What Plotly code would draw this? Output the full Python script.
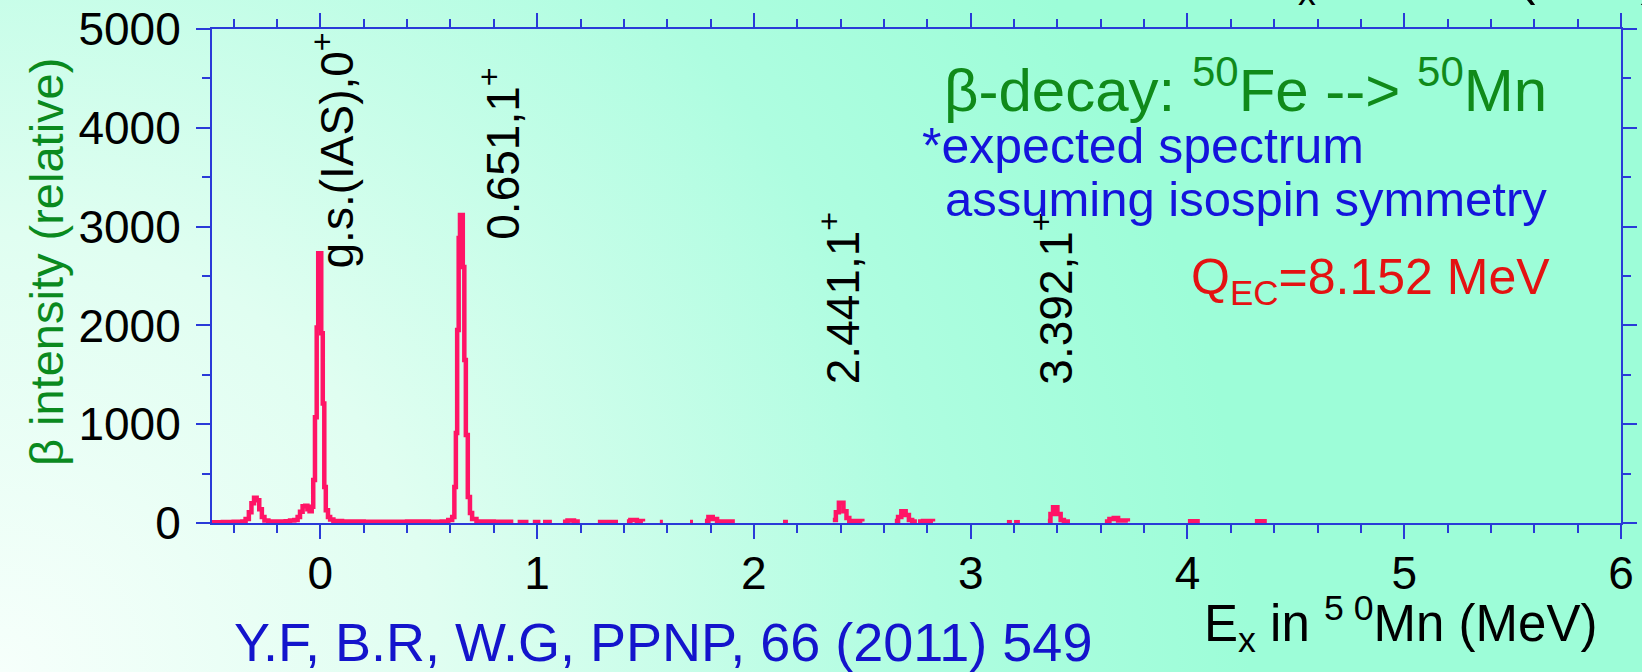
import base64
import plotly.graph_objects as go

# Beta-decay spectrum 50Fe -> 50Mn (step histogram, gaps where no counts are drawn)
energy_mev = [
    -0.50, -0.45, -0.40, -0.36, -0.345, -0.33, -0.318, -0.306, -0.294, -0.282, -0.27, -0.258,
    -0.24, -0.20, -0.16, -0.14, -0.12, -0.105, -0.094, -0.082, -0.070, -0.060, -0.050, -0.040,
    -0.033, -0.025, -0.017, -0.010, 0.004, 0.011, 0.018, 0.025, 0.035, 0.045, 0.06, 0.10,
    0.20, 0.30, 0.40, 0.50, 0.56, 0.59, 0.608, 0.618, 0.625, 0.631, 0.638, 0.644, 0.657,
    0.664, 0.671, 0.680, 0.690, 0.700, 0.72, 0.80, 0.89, 0.895,
    0.91, 0.96, 0.965,
    0.98, 1.015, 1.02,
    1.027, 1.068, 1.07,
    1.119, 1.14, 1.17, 1.197, 1.20,
    1.28, 1.373, 1.38,
    1.414, 1.43, 1.46, 1.488, 1.49,
    1.566, 1.58, 1.59,
    1.705, 1.719, 1.72,
    1.774, 1.79, 1.81, 1.83, 1.912, 1.92,
    2.134, 2.157, 2.16,
    2.364, 2.378, 2.392, 2.413, 2.427, 2.44, 2.50, 2.51,
    2.65, 2.665, 2.68, 2.70, 2.715, 2.73, 2.752, 2.755,
    2.757, 2.78, 2.826, 2.83,
    3.167, 3.19, 3.195,
    3.20, 3.227, 3.23,
    3.356, 3.368, 3.38, 3.40, 3.415, 3.43, 3.458, 3.46,
    3.619, 3.64, 3.66, 3.68, 3.725, 3.73,
    4.002, 4.057, 4.06,
    4.311, 4.366,
]
intensity = [
    8, 10, 12, 15, 40, 110, 200, 255, 230, 140, 60, 25,
    15, 15, 18, 25, 30, 60, 115, 170, 175, 140, 120, 165,
    435, 1070, 1980, 2730, 1920, 1210, 365, 130, 60, 35, 20, 15,
    12, 12, 15, 12, 15, 30, 60, 364, 911, 1953, 2885, 3117, 2590,
    1650, 890, 263, 101, 40, 15, 12, 12, None,
    10, 10, None,
    10, 10, None,
    10, 10, None,
    12, 25, 15, 15, None,
    10, 10, None,
    15, 30, 20, 15, None,
    10, 10, None,
    10, 10, None,
    20, 60, 40, 15, 15, None,
    10, 10, None,
    30, 110, 205, 120, 50, 20, 15, None,
    20, 60, 120, 80, 30, 15, 15, None,
    15, 20, 15, None,
    8, 8, None,
    8, 8, None,
    20, 90, 159, 90, 30, 15, 15, None,
    15, 40, 50, 25, 15, None,
    18, 18, None,
    18, 18,
]

x_ticks = [0, 1, 2, 3, 4, 5, 6]
y_ticks = [0, 1000, 2000, 3000, 4000, 5000]

# Level labels: (energy, bottom of label in intensity units, text)
level_x = [0.06, 0.83, 2.395, 3.375]
level_y = [2560, 2850, 1380, 1380]
level_text = ["g.s.(IAS),0<sup>+</sup>", "0.651,1<sup>+</sup>",
              "2.441,1<sup>+</sup>", "3.392,1<sup>+</sup>"]

W, H = 1642, 672
L, R, T, B = 212, 21, 29, 149
PW, PH = W - L - R, H - T - B

FONT = "Arial, Liberation Sans, Helvetica, sans-serif"
AXIS_BLUE = "#2a3ad8"
MINT = "rgb(157,253,216)"


def px(x):
    return (x - L) / PW


def py(y):
    return (H - B - y) / PH


# Pale corner fading into mint across the whole page
svg = f"""<svg xmlns='http://www.w3.org/2000/svg' width='{W}' height='{H}' viewBox='0 0 {W} {H}' preserveAspectRatio='none'>
<defs><radialGradient id='g' gradientUnits='userSpaceOnUse' cx='0' cy='{H}' r='1250'>
<stop offset='0' stop-color='#f6fffb'/><stop offset='0.35' stop-color='#e0fef1'/>
<stop offset='0.75' stop-color='#aefde0'/><stop offset='1' stop-color='{MINT}'/></radialGradient></defs>
<rect width='{W}' height='{H}' fill='url(#g)'/></svg>"""
bg_src = "data:image/svg+xml;base64," + base64.b64encode(svg.encode()).decode()

fig = go.Figure()
fig.add_trace(go.Scatter(
    x=energy_mev, y=intensity, mode="lines",
    line=dict(color="#ff1466", width=4.5, shape="hv"),
    connectgaps=False, hoverinfo="skip", showlegend=False,
))

annotations = []
for ex, ey, txt in zip(level_x, level_y, level_text):
    annotations.append(dict(
        x=ex, y=ey, xref="x", yref="y", text=txt, textangle=-90,
        showarrow=False, xanchor="center", yanchor="bottom",
        font=dict(family=FONT, size=46, color="black"),
    ))

annotations += [
    dict(x=px(46), y=py(262), xref="paper", yref="paper", text="β intensity (relative)",
         textangle=-90, showarrow=False, xanchor="center", yanchor="middle",
         font=dict(family=FONT, size=47, color="#0a8a1e")),
    dict(x=px(1549), y=py(86), xref="paper", yref="paper",
         text="β-decay: <sup>50</sup>Fe --> <sup>50</sup>Mn",
         showarrow=False, xanchor="right", yanchor="middle",
         font=dict(family=FONT, size=60, color="#108a1a")),
    dict(x=px(920), y=py(146), xref="paper", yref="paper", text="*expected spectrum",
         showarrow=False, xanchor="left", yanchor="middle",
         font=dict(family=FONT, size=50, color="#1414dc")),
    dict(x=px(1549), y=py(199), xref="paper", yref="paper", text="assuming isospin symmetry",
         showarrow=False, xanchor="right", yanchor="middle",
         font=dict(family=FONT, size=49, color="#1414dc")),
    dict(x=px(1552), y=py(280), xref="paper", yref="paper", text="Q<sub>EC</sub>=8.152 MeV",
         showarrow=False, xanchor="right", yanchor="middle",
         font=dict(family=FONT, size=50, color="#e41212")),
    dict(x=px(1400), y=py(624), xref="paper", yref="paper",
         text="E<sub>x</sub> in <sup>5 0</sup>Mn (MeV)",
         showarrow=False, xanchor="center", yanchor="middle",
         font=dict(family=FONT, size=51, color="black")),
    # copy of the axis caption sitting above the page edge, only its lowest strokes show
    dict(x=px(1460), y=py(-23), xref="paper", yref="paper",
         text="E<sub>x</sub> in <sup>5 0</sup>Mn (MeV)",
         showarrow=False, xanchor="center", yanchor="middle",
         font=dict(family=FONT, size=51, color="black")),
    dict(x=px(663), y=py(642), xref="paper", yref="paper",
         text="Y.F, B.R, W.G, PPNP, 66 (2011) 549",
         showarrow=False, xanchor="center", yanchor="middle",
         font=dict(family=FONT, size=54, color="#1414cc")),
]

axis_common = dict(
    showline=True, linecolor=AXIS_BLUE, linewidth=2, mirror="allticks",
    ticks="outside", ticklen=14, tickwidth=2, tickcolor=AXIS_BLUE,
    showgrid=False, zeroline=False, automargin=False,
    tickfont=dict(family=FONT, size=46, color="black"),
)

fig.update_layout(
    width=W, height=H,
    margin=dict(l=L, r=R, t=T, b=B, pad=0, autoexpand=False),
    paper_bgcolor="rgba(0,0,0,0)", plot_bgcolor="rgba(0,0,0,0)",
    images=[dict(source=bg_src, xref="paper", yref="paper",
                 x=px(0), y=py(0), sizex=W / PW, sizey=H / PH,
                 xanchor="left", yanchor="top", sizing="stretch", layer="below")],
    xaxis=dict(range=[-0.5, 6], tickvals=x_ticks, ticklabelstandoff=-5,
               minor=dict(dtick=0.2, ticklen=8, tickwidth=2, tickcolor=AXIS_BLUE, ticks="outside"),
               **axis_common),
    yaxis=dict(range=[0, 5000], tickvals=y_ticks, ticklabelstandoff=6,
               minor=dict(dtick=500, ticklen=8, tickwidth=2, tickcolor=AXIS_BLUE, ticks="outside"),
               **axis_common),
    annotations=annotations,
    showlegend=False,
)

fig.write_html("out.html")
